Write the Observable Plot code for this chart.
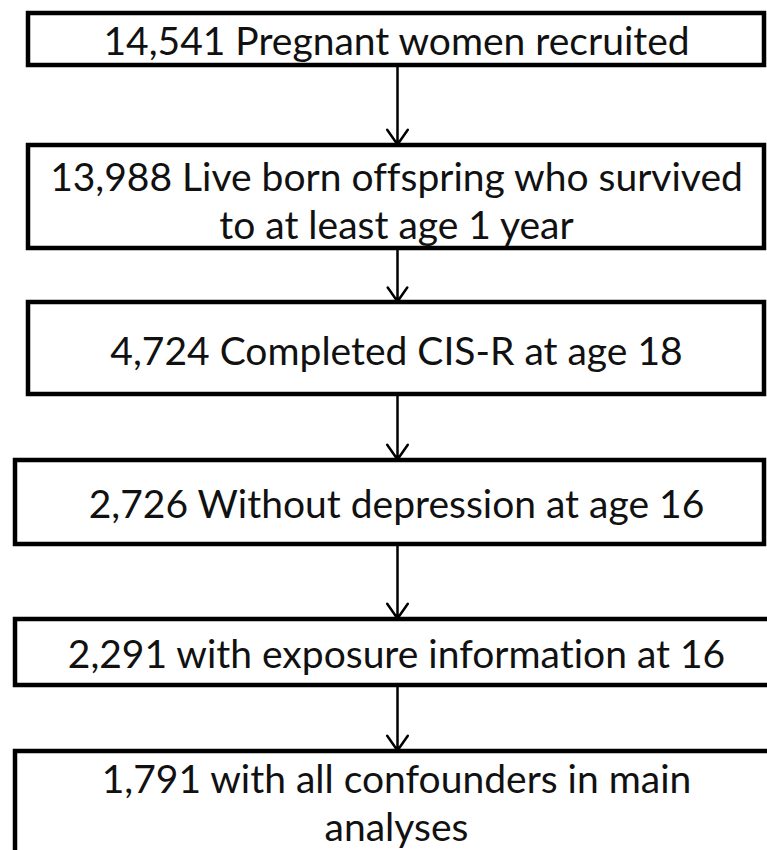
<!DOCTYPE html>
<html>
<head>
<meta charset="utf-8">
<script src="https://cdn.jsdelivr.net/npm/d3@7"></script>
<script src="https://cdn.jsdelivr.net/npm/@observablehq/plot@0.6"></script>
<style>
  html, body { margin: 0; padding: 0; background: #fff; }
  #chart svg { display: block; overflow: hidden; }
  #chart svg text { font-variant-ligatures: none; font-feature-settings: "liga" 0, "clig" 0; }
</style>
</head>
<body>
<div id="chart"></div>
<script>
// ---- Data: flowchart steps ----
const counts = ["14,541", "13,988", "4,724", "2,726", "2,291", "1,791"];
const descriptions = [
  "Pregnant women recruited",
  "Live born offspring who survived\nto at least age 1 year",
  "Completed CIS-R at age 18",
  "Without depression at age 16",
  "with exposure information at 16",
  "with all confounders in main\nanalyses"
];

// ---- Layout (page units, mapped through identity-like scales) ----
const boxLeft   = [28, 28, 28, 15, 15, 15];
const boxRight  = [764, 764, 764, 764, 790, 790];
const boxTop    = [13, 145, 302, 460, 619, 751];
const boxBottom = [65, 248, 394, 544, 685, 880];
const textY     = [39, 199, 349, 502, 652, 801];
const textX     = 396;
const arrowX    = 397;

const W = 767, H = 850;

const boxes = counts.map((c, i) => ({
  label: c + " " + descriptions[i],
  x1: boxLeft[i], x2: boxRight[i], y1: boxTop[i], y2: boxBottom[i],
  ty: textY[i]
}));

const arrows = boxes.slice(0, -1).map((b, i) => ({
  x: arrowX,
  y1: b.y2 + 2,
  y2: boxes[i + 1].y1 - 1
}));

const chart = Plot.plot({
  width: W,
  height: H,
  margin: 0,
  x: {domain: [0, W], range: [0, W], axis: null},
  y: {domain: [0, H], range: [0, H], axis: null},
  style: {fontFamily: "Lato, 'Open Sans', sans-serif", background: "#fff"},
  marks: [
    Plot.arrow(arrows, {
      x1: "x", x2: "x", y1: "y1", y2: "y2",
      stroke: "#000", strokeWidth: 2.5,
      headLength: 10.8, headAngle: 70, inset: 0
    }),
    Plot.rect(boxes, {
      x1: "x1", x2: "x2", y1: "y1", y2: "y2",
      fill: "#fff", stroke: "#000", strokeWidth: 4.5
    }),
    Plot.text(boxes, {
      x: () => textX, y: "ty", text: "label",
      fontSize: 39, lineHeight: 1.25, fill: "#111",
      textAnchor: "middle", lineAnchor: "middle"
    })
  ]
});

document.getElementById("chart").appendChild(chart);
</script>
</body>
</html>
